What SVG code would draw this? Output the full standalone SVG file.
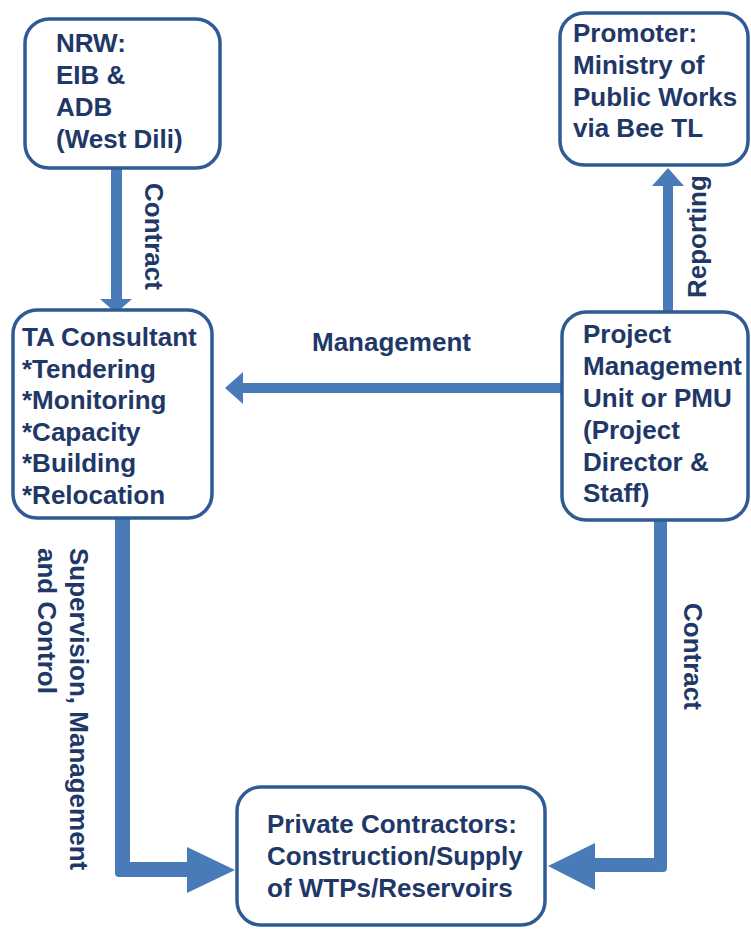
<svg xmlns="http://www.w3.org/2000/svg" width="751" height="929" viewBox="0 0 751 929">
<style>
.box{fill:#ffffff;stroke:#2e5b94;stroke-width:3.5}
.t{font-family:"Liberation Sans",Arial,sans-serif;font-weight:bold;font-size:26px;fill:#1f3868}
.arr{fill:#4a7bb9}
</style>
<rect width="751" height="929" fill="#ffffff"/>
<g id="connectors">
  <g id="c-nrw-ta">
    <rect class="arr" x="111" y="168" width="11" height="132"/>
    <polygon class="arr" points="100,299 132,299 116,313"/>
  </g>
  <g id="c-pmu-promoter">
    <rect class="arr" x="663" y="184" width="10" height="128"/>
    <polygon class="arr" points="652,186 684,186 668,168"/>
  </g>
  <g id="c-pmu-ta">
    <rect class="arr" x="240" y="383" width="323" height="10"/>
    <polygon class="arr" points="243,372 243,404 225,388"/>
  </g>
  <g id="c-ta-contractors">
    <path class="arr" d="M115,512 H130 V862 H189 V877 H119 Q115,877 115,873 Z"/>
    <polygon class="arr" points="187,847 235,870 187,893"/>
  </g>
  <g id="c-pmu-contractors">
    <path class="arr" d="M654,514 H667 V868 Q667,872 663,872 H593 V858 H654 Z"/>
    <polygon class="arr" points="595,843 595,890 548,866"/>
  </g>
  <text class="t" transform="translate(145,183) rotate(90)">Contract</text>
  <text class="t" transform="translate(706,298) rotate(-90)">Reporting</text>
  <text class="t" x="312" y="351">Management</text>
  <text class="t" transform="translate(70,548) rotate(90)">Supervision, Management<tspan x="0" dy="32">and Control</tspan></text>
  <text class="t" transform="translate(684,603) rotate(90)">Contract</text>
</g>
<g id="nrw">
  <rect class="box" x="25" y="19" width="195" height="149" rx="24"/>
  <text class="t" x="56" y="52">NRW:<tspan x="56" dy="32">EIB &amp;</tspan><tspan x="56" dy="32">ADB</tspan><tspan x="56" dy="32">(West Dili)</tspan></text>
</g>
<g id="promoter">
  <rect class="box" x="560" y="13" width="188" height="152" rx="24"/>
  <text class="t" x="573" y="42">Promoter:<tspan x="573" dy="32">Ministry of</tspan><tspan x="573" dy="32">Public Works</tspan><tspan x="573" dy="31">via Bee TL</tspan></text>
</g>
<g id="ta">
  <rect class="box" x="13" y="310" width="199" height="208" rx="24"/>
  <text class="t" x="22" y="346">TA Consultant<tspan x="22" dy="31.6">*Tendering</tspan><tspan x="22" dy="31.6">*Monitoring</tspan><tspan x="22" dy="31.6">*Capacity</tspan><tspan x="22" dy="31.6">*Building</tspan><tspan x="22" dy="31.6">*Relocation</tspan></text>
</g>
<g id="pmu">
  <rect class="box" x="562" y="312" width="186" height="208" rx="24"/>
  <text class="t" x="583" y="343">Project<tspan x="583" dy="32">Management</tspan><tspan x="583" dy="32">Unit or PMU</tspan><tspan x="583" dy="32">(Project</tspan><tspan x="583" dy="32">Director &amp;</tspan><tspan x="583" dy="31">Staff)</tspan></text>
</g>
<g id="contractors">
  <rect class="box" x="237" y="787" width="308" height="138" rx="24"/>
  <text class="t" x="267" y="833">Private Contractors:<tspan x="267" dy="32">Construction/Supply</tspan><tspan x="267" dy="32">of WTPs/Reservoirs</tspan></text>
</g>
</svg>
